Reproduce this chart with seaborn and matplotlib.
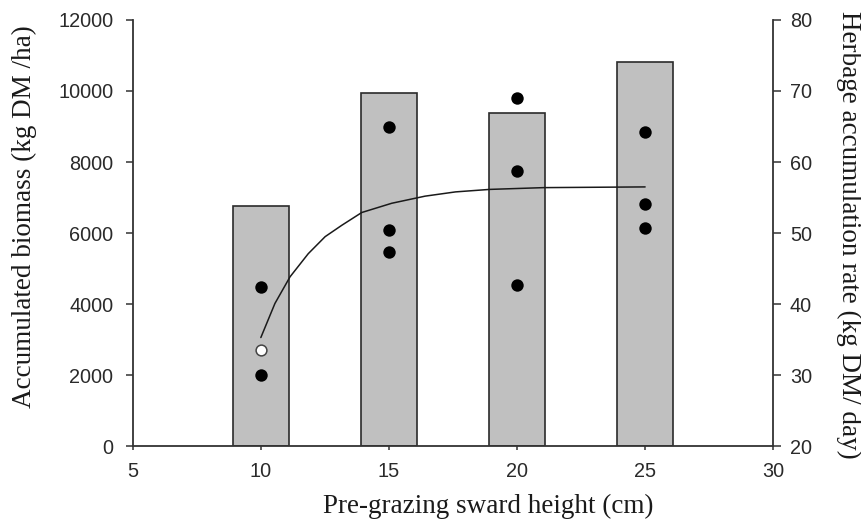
import matplotlib
matplotlib.use("Agg")
import matplotlib.pyplot as plt
import seaborn as sns
import pandas as pd

# Accumulated biomass per pre-grazing sward height (bars, left axis)
sward_height = [10, 15, 20, 25]
biomass = [6760, 9940, 9390, 10820]

# Herbage accumulation rate of individual paddocks (points, right axis)
rate_height = [10, 10, 15, 15, 15, 20, 20, 20, 25, 25, 25]
rate_value = [42.4, 30.0, 64.9, 50.5, 47.4, 69.0, 58.7, 42.7, 64.2, 54.1, 50.7]

# Excluded observation (open circle)
outlier_height = [10]
outlier_value = [33.5]

# Fitted response curve of accumulation rate
curve_height = [10.0, 10.55, 11.14, 11.85, 12.51, 13.16, 13.94, 15.11, 16.41,
                17.6, 18.93, 21.04, 23.0, 25.0]
curve_value = [35.3, 40.1, 43.85, 47.1, 49.5, 51.1, 52.9, 54.2, 55.2,
               55.8, 56.15, 56.4, 56.45, 56.5]

x_ticks = [5, 10, 15, 20, 25, 30]
left_ticks = [0, 2000, 4000, 6000, 8000, 10000, 12000]
right_ticks = [20, 30, 40, 50, 60, 70, 80]

sns.set_style("ticks")
plt.rcParams["font.family"] = ["Liberation Sans", "DejaVu Sans"]

fig = plt.figure(figsize=(8.62, 5.25), dpi=100)
ax = fig.add_axes([0.154, 0.150, 0.743, 0.812])

axis_color = "#333333"
bars = pd.DataFrame({"height": sward_height, "biomass": biomass})
sns.barplot(data=bars, x="height", y="biomass", native_scale=True, width=0.44,
            color="#c0c0c0", saturation=1, edgecolor="#2b2b2b", linewidth=1.2,
            ax=ax, zorder=2)

ax.set_xlim(5, 30)
ax.set_ylim(0, 12000)
ax.set_xticks(x_ticks)
ax.set_xticklabels([str(v) for v in x_ticks])
ax.set_yticks(left_ticks)
ax.set_yticklabels([str(v) for v in left_ticks])

ax2 = ax.twinx()
sns.lineplot(x=curve_height, y=curve_value, sort=False, estimator=None,
             color="#1a1a1a", linewidth=1.1, ax=ax2, zorder=3)
sns.scatterplot(x=rate_height, y=rate_value, s=80, color="black",
                edgecolor="black", linewidth=0, ax=ax2, zorder=4)
sns.scatterplot(x=outlier_height, y=outlier_value, s=60, facecolor="white",
                edgecolor="#444444", linewidth=1.1, ax=ax2, zorder=4)
ax2.set_ylim(20, 80)
ax2.set_yticks(right_ticks)
ax2.set_yticklabels([str(v) for v in right_ticks])
ax2.set_xlim(5, 30)

for a in (ax, ax2):
    a.spines["top"].set_visible(False)
    for s in ("left", "right", "bottom"):
        a.spines[s].set_color(axis_color)
        a.spines[s].set_linewidth(1.3)
    a.tick_params(axis="both", colors=axis_color, labelcolor="#2a2a2a",
                  labelsize=14.3, length=5, width=1.1, direction="out")
ax.spines["right"].set_visible(False)
ax2.spines["left"].set_visible(False)
ax2.spines["bottom"].set_visible(False)
ax.tick_params(axis="x", pad=8, length=3)
ax.tick_params(axis="y", pad=9)
ax2.tick_params(axis="y", pad=6, length=6)

serif = ["Liberation Serif", "DejaVu Serif"]
label_style = dict(family=serif, fontsize=19.5, color="#1a1a1a", va="center")
ax.set_xlabel("Pre-grazing sward height (cm)", **label_style)
ax.set_ylabel("Accumulated biomass (kg DM /ha)", **label_style)
ax2.set_ylabel("Herbage accumulation rate (kg DM/ day)", rotation=270,
               **label_style)
ax.xaxis.set_label_coords(0.555, -0.141)
ax.yaxis.set_label_coords(-0.169, 0.538)
ax2.yaxis.set_label_coords(1.117, 0.495)

fig.savefig("out.png", dpi=100)
